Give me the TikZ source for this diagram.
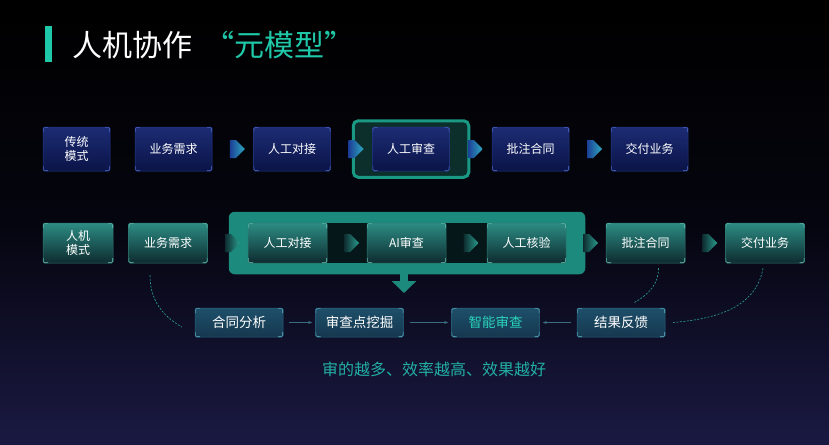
\documentclass[tikz,border=0pt]{standalone}
\usepackage{fontspec}
\setmainfont{Noto Sans CJK SC}
\usetikzlibrary{positioning,calc,arrows.meta,shapes.symbols,backgrounds,fit}
\definecolor{accent}{HTML}{1FC8A8}
\definecolor{slogc}{HTML}{22B0A4}
\definecolor{bgmid}{HTML}{05050F}
\definecolor{bgbot}{HTML}{1A1942}
\definecolor{navyt}{HTML}{1C2C74}
\definecolor{navyb}{HTML}{0B1448}
\definecolor{navyl}{HTML}{26398A}
\definecolor{navyc}{HTML}{5C7CE0}
\definecolor{chevl}{HTML}{1B3F96}
\definecolor{chevr}{HTML}{2FA8C0}
\definecolor{tealt}{HTML}{2C8C84}
\definecolor{tealb}{HTML}{0E2B2F}
\definecolor{teall}{HTML}{2F7A72}
\definecolor{tealc}{HTML}{7AD8C8}
\definecolor{subt}{HTML}{1E4F6A}
\definecolor{subb}{HTML}{15384F}
\definecolor{subl}{HTML}{2C6480}
\definecolor{subc}{HTML}{6AC8D8}
\definecolor{ctrc}{HTML}{1C8A7C}
\definecolor{gapc}{HTML}{06171A}
\definecolor{hlfill}{HTML}{0C2F2C}
\definecolor{hldraw}{HTML}{1A9A84}
\definecolor{flowc}{HTML}{3B6D80}
\definecolor{dashc}{HTML}{2AA8A0}
\definecolor{smart}{HTML}{2AD4BC}
\tikzset{
  cmarks/.style={path picture={
    \foreach \a/\sx/\sy in {north west/1/-1,north east/-1/-1,south west/1/1,south east/-1/1}{
      \draw[#1, line width=1.3pt] ([xshift=\sx*5pt]path picture bounding box.\a)
        -- (path picture bounding box.\a) -- ([yshift=\sy*5pt]path picture bounding box.\a);}}},
  box/.style={rounded corners=1.5pt, align=center, inner sep=0pt, text=white,
              font=\fontsize{12}{14}\selectfont, line width=0.5pt},
  oldbox/.style={box, top color=navyt, bottom color=navyb, draw=navyl,
                 minimum width=77pt, minimum height=44pt, cmarks=navyc},
  newbox/.style={box, top color=tealt, bottom color=tealb, draw=teall,
                 minimum width=79pt, minimum height=40pt, cmarks=tealc},
  subbox/.style={box, top color=subt, bottom color=subb, draw=subl,
                 minimum width=88pt, minimum height=29pt, cmarks=subc,
                 font=\fontsize{13.5}{15}\selectfont},
  chev/.style={signal, signal to=east, minimum width=15pt, minimum height=18pt,
               inner sep=0pt},
  oldchev/.style={chev, left color=chevl, right color=chevr},
  newchev/.style={chev, left color=tealb, right color=tealt!75!accent},
  hlbox/.style={rounded corners=5pt, fill=hlfill, draw=hldraw, line width=3pt,
                inner xsep=19pt, inner ysep=6pt},
  ctrbox/.style={rounded corners=6pt, fill=ctrc, inner xsep=19pt, inner ysep=11pt},
  downarr/.style={-{Triangle[width=24pt,length=12pt]}, line width=8pt, draw=ctrc},
  flow/.style={-{Stealth[length=4pt,width=3pt]}, draw=flowc, line width=0.6pt,
               shorten <=6pt, shorten >=3pt},
  dashcurve/.style={draw=dashc, line width=0.6pt, dash pattern=on 2pt off 1.5pt},
  ttl/.style={font=\fontsize{30}{32}\selectfont, text=white, inner sep=0pt},
  slogan/.style={font=\fontsize{16}{18}\selectfont, text=slogc},
}
\begin{document}
\begin{tikzpicture}[x=1pt,y=-1pt]
  \useasboundingbox (0,0) rectangle (829,444);
  \begin{scope}[on background layer]
    \shade[top color=black, bottom color=bgbot, middle color=bgmid] (0,0) rectangle (829,444);
  \end{scope}
  % --- title ---
  \fill[accent] (45,26) rectangle (52,62);
  \node[ttl, anchor=west] (ttl) at (72,45) {人机协作\hspace{12pt}\textcolor{accent}{“元模型”}};
  % --- traditional mode ---
  \node[oldbox, minimum width=67pt] (o0) at (76.5,149) {传统\\模式};
  \node[oldbox] (o1) at (173.5,149) {业务需求};
  \node[oldbox] (o2) at (292,149) {人工对接};
  \node[oldbox] (o3) at (411,149) {人工审查};
  \node[oldbox] (o4) at (530.5,149) {批注合同};
  \node[oldbox] (o5) at (649.5,149) {交付业务};
  \begin{scope}[on background layer]
    \node[hlbox, fit=(o3)] (hl) {};
  \end{scope}
  \foreach \a/\b in {o1/o2,o2/o3,o3/o4,o4/o5}{
     \node[oldchev] (c\a) at ($(\a.east)!0.5!(\b.west)$){};}
  % --- human-machine mode ---
  \node[newbox, minimum width=70pt] (n0) at (78,243) {人机\\模式};
  \node[newbox] (n1) at (168,243) {业务需求};
  \node[newbox] (n2) at (287.5,243) {人工对接};
  \node[newbox] (n3) at (406.5,243) {AI审查};
  \node[newbox] (n4) at (526.5,243) {人工核验};
  \node[newbox] (n5) at (645.5,243) {批注合同};
  \node[newbox] (n6) at (765,243) {交付业务};
  \begin{scope}[on background layer]
    \node[ctrbox, fit=(n2)(n4)] (ctr) {};
    \fill[gapc] (n2.north east) rectangle (n4.south west);
  \end{scope}
  \foreach \a/\b in {n1/n2,n2/n3,n3/n4,n4/n5,n5/n6}{
     \node[newchev] (c\a) at ($(\a.east)!0.5!(\b.west)$){};}
  \coordinate (dn) at (404,293);
  \draw[downarr] (ctr.south -| dn) -- (dn);
  % --- learning loop ---
  \node[subbox] (s1) at (239,322.5) {合同分析};
  \node[subbox] (s2) at (359.5,322.5) {审查点挖掘};
  \node[subbox, text=smart] (s3) at (495.5,322.5) {智能审查};
  \node[subbox] (s4) at (621,322.5) {结果反馈};
  \draw[flow] (s1) -- (s2);
  \draw[flow] (s2) -- (s3);
  \draw[flow] (s4) -- (s3);
  \draw[dashcurve] ([xshift=-18pt,yshift=-12pt]n1.south) to[out=-90,in=150] ([xshift=-13pt,yshift=-4.5pt]s1.west);
  \draw[dashcurve] ([xshift=13pt,yshift=-5pt]n5.south) to[out=-90,in=30] ([xshift=13pt,yshift=5pt]s4.north);
  \draw[dashcurve] ([xshift=-2pt,yshift=-5pt]n6.south) to[out=-100,in=5] ([xshift=8pt]s4.east);
  \node[slogan] (slg) at (434,369.5) {审的越多、效率越高、效果越好};
\end{tikzpicture}
\end{document}
